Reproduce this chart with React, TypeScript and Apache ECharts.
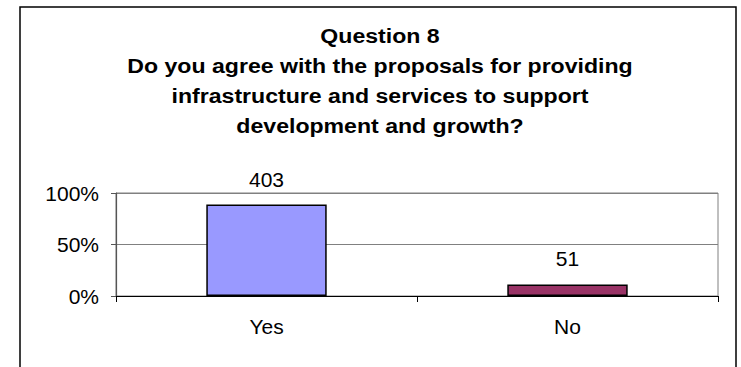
import React, { useEffect, useRef } from "react";
import * as echarts from "echarts";

const categories = ["Yes", "No"];
const counts = [403, 51];
const barColors = ["#9999FF", "#993366"];
const yTicks = [0, 50, 100];
const titleLines = [
  "Question 8",
  "Do you agree with the proposals for providing",
  "infrastructure and services to support",
  "development and growth?",
];

export default function App() {
  const ref = useRef<HTMLDivElement>(null);
  useEffect(() => {
    if (!ref.current) return;
    const chart = echarts.init(ref.current, undefined, { renderer: "svg" });
    const total = counts.reduce((a, b) => a + b, 0);
    const font = "'Liberation Sans', Arial, sans-serif";
    chart.setOption({
      animation: false,
      backgroundColor: "#ffffff",
      graphic: [
        {
          type: "rect",
          shape: { x: 20, y: 7, width: 716, height: 380 },
          style: { fill: "none", stroke: "#000", lineWidth: 1.5 },
          z: 0,
        },
        {
          type: "text",
          x: 380,
          y: 21,
          scaleX: 1.1,
          style: {
            text: titleLines.join("\n"),
            fontFamily: font,
            fontWeight: "bold",
            fontSize: 21,
            lineHeight: 30,
            fill: "#000",
            textAlign: "center",
            textVerticalAlign: "top",
          },
        },
      ],
      grid: {
        left: 116,
        right: 23,
        top: 193,
        bottom: 71,
        show: true,
        borderColor: "#808080",
        borderWidth: 1,
        backgroundColor: "transparent",
      },
      xAxis: {
        type: "category",
        data: categories,
        axisLine: { lineStyle: { color: "#000", width: 1.2 } },
        axisTick: { show: true, length: 6, lineStyle: { color: "#000" } },
        axisLabel: { fontFamily: font, fontSize: 21, color: "#000", margin: 20 },
      },
      yAxis: {
        type: "value",
        min: 0,
        max: 100,
        interval: 50,
        axisLine: { show: true, lineStyle: { color: "#555", width: 1.2 } },
        axisTick: { show: true, length: 5, lineStyle: { color: "#555" } },
        splitLine: { show: true, lineStyle: { color: "#808080", width: 1 } },
        axisLabel: {
          fontFamily: font,
          fontSize: 21,
          color: "#000",
          margin: 17,
          formatter: (v: number) => (yTicks.includes(v) ? v + "%" : ""),
        },
      },
      series: [
        {
          type: "bar",
          barWidth: "40%",
          data: counts.map((c, i) => ({
            value: (c / total) * 100,
            count: c,
            itemStyle: { color: barColors[i], borderColor: "#000", borderWidth: 1.5 },
          })),
          label: {
            show: true,
            position: "top",
            distance: 15,
            fontFamily: font,
            fontSize: 21,
            color: "#000",
            formatter: (p: any) => String(counts[p.dataIndex]),
          },
        },
      ],
    });
    return () => chart.dispose();
  }, []);
  return (
    <div
      ref={ref}
      style={{ position: "fixed", left: 0, top: 0, width: 741, height: 367 }}
    />
  );
}
